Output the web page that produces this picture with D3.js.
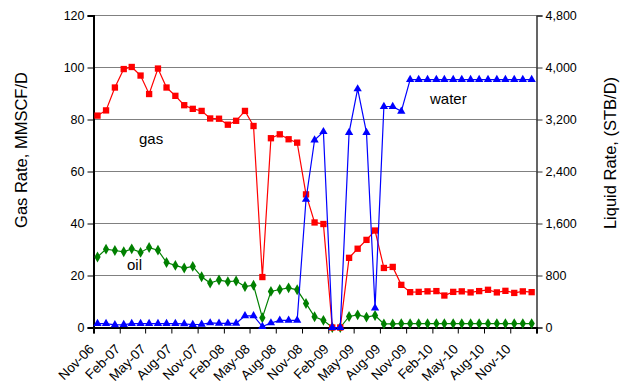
<!DOCTYPE html>
<html><head><meta charset="utf-8">
<script src="https://cdn.jsdelivr.net/npm/d3@7"></script>
<style>
body{margin:0;background:#fff;}
text{font-family:"Liberation Sans",Arial,sans-serif;fill:#000;}
</style></head>
<body><svg id="c" width="621" height="385"></svg>
<script>
const months = ["2006-11","2006-12","2007-01","2007-02","2007-03","2007-04","2007-05","2007-06","2007-07","2007-08","2007-09","2007-10","2007-11","2007-12",
"2008-01","2008-02","2008-03","2008-04","2008-05","2008-06","2008-07","2008-08","2008-09","2008-10","2008-11","2008-12",
"2009-01","2009-02","2009-03","2009-04","2009-05","2009-06","2009-07","2009-08","2009-09","2009-10","2009-11","2009-12",
"2010-01","2010-02","2010-03","2010-04","2010-05","2010-06","2010-07","2010-08","2010-09","2010-10","2010-11","2010-12","2011-01"];
const gas = [81.5,83.5,92.3,99.4,100.2,96.9,89.8,99.6,92.3,89.1,85.5,84.1,83.3,80.4,80.3,78.0,79.5,83.3,77.5,19.4,
72.8,74.3,72.4,71.1,51.2,40.4,39.8,0,0,26.8,30.3,33.7,37.3,22.9,23.3,16.4,13.6,13.7,13.9,14.0,12.3,13.7,13.9,13.5,14.0,14.5,13.5,14.1,13.3,13.9,13.6];
const oil = [1085,1205,1185,1165,1210,1155,1230,1190,1000,955,915,940,780,685,730,705,715,630,650,150,
555,585,610,580,370,165,110,0,0,170,195,160,185,55,55,60,60,60,60,60,60,60,60,60,60,60,60,60,60,60,60];
const water = [60,60,40,45,60,60,60,60,60,60,55,45,50,70,65,65,65,180,180,15,
70,110,110,110,1970,2885,3012,0,0,2998,3670,2998,300,3400,3400,3325,3815,3815,3815,3815,3815,3815,3815,3815,3815,3815,3815,3815,3815,3815,3815];
const tickLabels = ["Nov-06","Feb-07","May-07","Aug-07","Nov-07","Feb-08","May-08","Aug-08","Nov-08","Feb-09","May-09","Aug-09","Nov-09","Feb-10","May-10","Aug-10","Nov-10"];
const axisEndLabel = "Feb-11";
const gasTicks = [0,20,40,60,80,100,120];
const liqTicks = [0,800,1600,2400,3200,4000,4800];
const seriesLabels = [{t:"gas",s:"gas"},{t:"oil",s:"oil"},{t:"water",s:"water"}];

const svg = d3.select("#c");
const L=93.5, R=536.5, T=15.5, B=327.5;
const parseM = d3.timeParse("%Y-%m");
const parseT = d3.timeParse("%b-%y");
const dates = months.map(m => { const d = parseM(m); d.setDate(15); return d; });
const x = d3.scaleTime().domain([parseT(tickLabels[0]), parseT(axisEndLabel)]).range([L,R]);
const yG = d3.scaleLinear().domain([0,120]).range([B,T]);
const yL = d3.scaleLinear().domain([0,4800]).range([B,T]);

// gridlines
svg.append("g").selectAll("line").data(gasTicks.slice(1)).join("line")
  .attr("x1",L).attr("x2",R).attr("y1",d=>yG(d)).attr("y2",d=>yG(d))
  .attr("stroke","#808080").attr("stroke-width",1.2);

// left axis
const gl = svg.append("g").attr("transform",`translate(${L},0)`)
  .call(d3.axisLeft(yG).tickValues(gasTicks).tickSize(6).tickPadding(3));
gl.select(".domain").attr("stroke","#000").attr("stroke-width",2);
gl.selectAll(".tick line").attr("stroke","#000");
gl.selectAll("text").style("font-size","12.5px").attr("fill","#000");

// right axis
const gr = svg.append("g").attr("transform",`translate(${R},0)`)
  .call(d3.axisRight(yL).tickValues(liqTicks).tickFormat(d3.format(",")).tickSize(6).tickPadding(3));
gr.select(".domain").attr("stroke","#333").attr("stroke-width",1.5);
gr.selectAll(".tick line").attr("stroke","#333");
gr.selectAll("text").style("font-size","12.5px").attr("fill","#000");

// bottom axis
const tickDates = tickLabels.map(parseT).concat([parseT(axisEndLabel)]);
const gb = svg.append("g").attr("transform",`translate(0,${B})`)
  .call(d3.axisBottom(x).tickValues(tickDates).tickSize(6).tickFormat(""));
gb.select(".domain").attr("stroke","#000").attr("stroke-width",2);
gb.selectAll(".tick line").attr("stroke","#000");
svg.append("g").selectAll("text").data(tickLabels).join("text")
  .attr("transform",d=>`translate(${x(parseT(d))-2},${B+19}) rotate(-45)`)
  .attr("text-anchor","end").attr("dy","0.35em")
  .style("font-size","13.5px").text(d=>d);

// axis titles
svg.append("text").attr("transform","translate(27,150) rotate(-90)").attr("text-anchor","middle")
  .style("font-size","16.5px").text("Gas Rate, MMSCF/D");
svg.append("text").attr("transform","translate(616,153) rotate(-90)").attr("text-anchor","middle")
  .style("font-size","16.5px").text("Liquid Rate, (STB/D)");

function series(vals, yScale, color, sym, size){
  const pts = vals.map((v,i)=>[x(dates[i]), yScale(v)]);
  svg.append("path").attr("d",d3.line()(pts)).attr("fill","none").attr("stroke",color).attr("stroke-width",1.2);
  svg.append("g").selectAll("path").data(pts).join("path")
    .attr("transform",d=>`translate(${d[0]},${d[1]})`)
    .attr("d",d3.symbol().type(sym).size(size)).attr("fill",color);
}
series(oil, yL, "#008000", d3.symbolDiamond, 34);
series(gas, yG, "#FF0000", d3.symbolSquare, 40);
series(water, yL, "#0000FF", d3.symbolTriangle, 30);

// series labels
const labPos = {gas:[139,144], oil:[127,270], water:[430,104]};
svg.append("g").selectAll("text").data(seriesLabels).join("text")
  .attr("x",d=>labPos[d.s][0]).attr("y",d=>labPos[d.s][1])
  .style("font-size","15px").text(d=>d.t);
</script></body></html>
